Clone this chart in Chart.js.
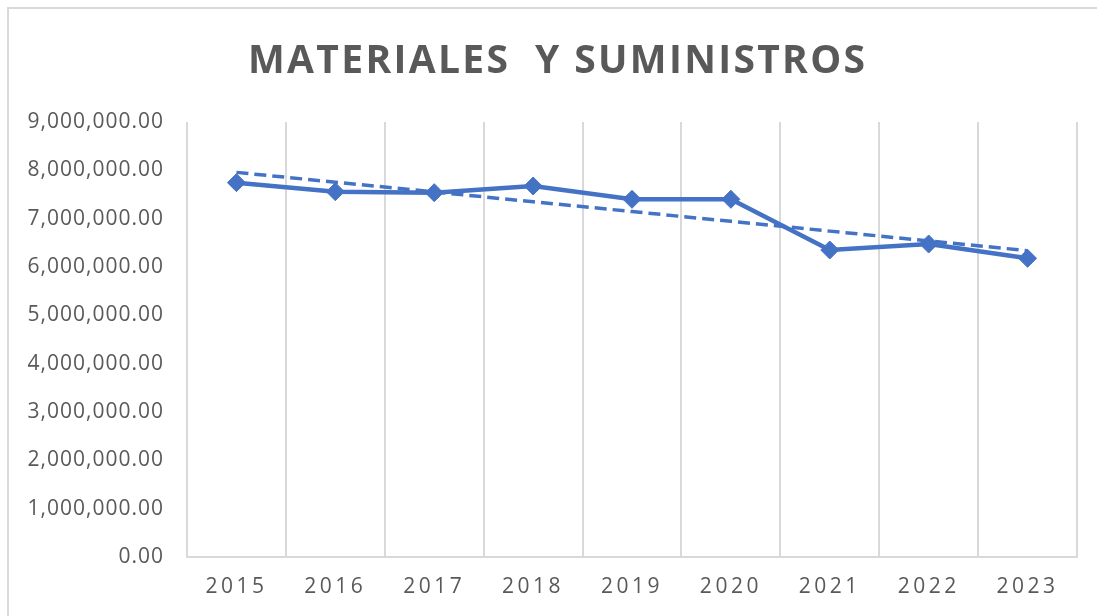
<!DOCTYPE html>
<html>
<head>
<meta charset="utf-8">
<script src="https://cdn.jsdelivr.net/npm/chart.js@4.4.1/dist/chart.umd.min.js"></script>
<style>
  html, body { margin: 0; padding: 0; background: #ffffff; }
  #wrap { width: 1097px; height: 616px; position: relative; }
</style>
</head>
<body>
<div id="wrap"><canvas id="c"></canvas></div>
<script>
const chartTitle = 'MATERIALES  Y SUMINISTROS';
const categories = ['2015', '2016', '2017', '2018', '2019', '2020', '2021', '2022', '2023'];
const values = [7745000, 7558000, 7538000, 7676000, 7401000, 7401000, 6352000, 6476000, 6180000];
const yTicks = [0, 1000000, 2000000, 3000000, 4000000, 5000000, 6000000, 7000000, 8000000, 9000000];

// Linear trendline (least squares), as in the spreadsheet chart
function linearTrend(v) {
  const n = v.length;
  let sx = 0, sy = 0, sxy = 0, sxx = 0;
  v.forEach((y, i) => { sx += i; sy += y; sxy += i * y; sxx += i * i; });
  const b = (n * sxy - sx * sy) / (n * sxx - sx * sx);
  const a = (sy - b * sx) / n;
  return v.map((_, i) => a + b * i);
}
const trend = linearTrend(values);

const TEXT = '#595959';
const GRID = '#d9d9d9';
const BLUE = '#4472C4';

const frame = {
  id: 'frame',
  beforeDraw(chart) {
    const c = chart.ctx;
    c.save();
    c.fillStyle = '#ffffff';
    c.fillRect(0, 0, chart.width, chart.height);
    c.strokeStyle = GRID;
    c.lineWidth = 2;
    c.strokeRect(8, 8, chart.width + 20, chart.height + 20);
    c.restore();
    [['x', '3.5px'], ['y', '1px']].forEach(([id, sp]) => {
      const s = chart.scales[id];
      if (s && !s._spPatched) {
        const orig = s.drawLabels.bind(s);
        s.drawLabels = function (ca) {
          const cx = chart.ctx;
          cx.save();
          cx.letterSpacing = sp;
          orig(ca);
          cx.restore();
        };
        s._spPatched = true;
      }
    });
  },
  afterDraw(chart) {
    const c = chart.ctx;
    c.save();
    c.font = 'bold 39px "Open Sans"';
    c.fillStyle = TEXT;
    c.textBaseline = 'alphabetic';
    c.textAlign = 'left';
    const w0 = c.measureText(chartTitle).width;
    const target = 617;
    const sp = (target - w0) / (chartTitle.length - 1);
    c.letterSpacing = sp + 'px';
    c.fillText(chartTitle, 248, 73);
    c.restore();
  }
};

new Chart(document.getElementById('c'), {
  type: 'line',
  data: {
    labels: categories,
    datasets: [
      {
        label: 'Lineal',
        data: trend,
        borderColor: BLUE,
        borderWidth: 3.5,
        borderDash: [12, 6],
        pointRadius: 0,
        fill: false,
        tension: 0
      },
      {
        label: 'Materiales y suministros',
        data: values,
        borderColor: BLUE,
        backgroundColor: BLUE,
        borderWidth: 4.5,
        pointStyle: 'rectRot',
        pointRadius: 9,
        pointHoverRadius: 9,
        pointBorderWidth: 1,
        pointBackgroundColor: BLUE,
        pointBorderColor: BLUE,
        fill: false,
        tension: 0
      }
    ]
  },
  options: {
    responsive: true,
    maintainAspectRatio: false,
    devicePixelRatio: 1,
    animation: false,
    layout: { padding: { left: 0, right: 20, top: 122, bottom: 0 } },
    plugins: {
      legend: { display: false },
      title: { display: false },
      tooltip: { enabled: false }
    },
    scales: {
      x: {
        offset: true,
        grid: { display: true, offset: true, color: GRID, lineWidth: 2, drawTicks: false },
        border: { display: true, color: GRID, width: 2 },
        ticks: { color: TEXT, font: { family: '"Open Sans"', size: 21 }, padding: 17, maxRotation: 0 },
        afterFit(s) { s.height = 59; }
      },
      y: {
        min: 0,
        max: 9000000,
        afterBuildTicks(s) { s.ticks = yTicks.map(v => ({ value: v })); },
        grid: { display: false, drawTicks: false },
        border: { display: false },
        ticks: {
          color: TEXT,
          font: { family: '"Open Sans"', size: 21 },
          padding: 23,
          callback: v => Number(v).toLocaleString('en-US', { minimumFractionDigits: 2, maximumFractionDigits: 2 })
        },
        afterFit(s) { s.width = 187; }
      }
    }
  },
  plugins: [frame]
});
</script>
</body>
</html>
